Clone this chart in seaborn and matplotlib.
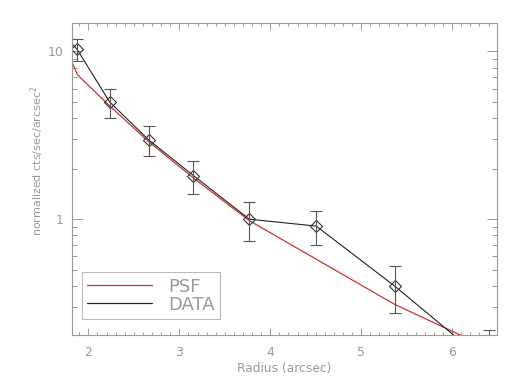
import matplotlib
matplotlib.use('Agg')
import matplotlib.pyplot as plt
from matplotlib.ticker import MultipleLocator, LogLocator, NullFormatter, FixedLocator, FixedFormatter
import seaborn as sns
import pandas as pd

# radial profile data
data_radius = [1.70, 1.876, 2.234, 2.663, 3.155, 3.77, 4.505, 5.366, 6.40]
data_value = [13.0, 10.3, 5.0, 2.97, 1.82, 1.0, 0.91, 0.40, 0.137]
data_err_hi = [15.0, 11.9, 5.97, 3.6, 2.21, 1.26, 1.12, 0.525, 0.218]
data_err_lo = [11.0, 8.8, 4.04, 2.38, 1.42, 0.74, 0.70, 0.276, 0.08]

psf_radius = [1.82, 1.88, 2.234, 2.663, 3.155, 3.77, 5.366, 6.40]
psf_value = [8.65, 7.26, 4.74, 2.90, 1.76, 0.98, 0.311, 0.17]

xticks = [2, 3, 4, 5, 6]
yticks = [1, 10]

grey = '#9a9a9a'
sns.set_style('ticks')
plt.rcParams['font.family'] = ['DejaVu Sans']

fig = plt.figure(figsize=(5.18, 3.82), dpi=100)
ax = fig.add_axes([0.139, 0.123, 0.820, 0.817])

psf = pd.DataFrame({'r': psf_radius, 'v': psf_value})
dat = pd.DataFrame({'r': data_radius, 'v': data_value})

sns.lineplot(data=psf, x='r', y='v', ax=ax, color='#cc3333', lw=0.9,
             label='PSF', sort=False)
sns.lineplot(data=dat, x='r', y='v', ax=ax, color='#222222', lw=0.8,
             label='DATA', sort=False, marker='D', markersize=6.5,
             markerfacecolor='none', markeredgecolor='#333333',
             markeredgewidth=0.8)

yerr = [[v - lo for v, lo in zip(data_value, data_err_lo)],
        [hi - v for v, hi in zip(data_value, data_err_hi)]]
ax.errorbar(data_radius, data_value, yerr=yerr, fmt='none', ecolor='#555555',
            elinewidth=0.8, capsize=4, capthick=0.8)

ax.set_yscale('log')
ax.set_xlim(1.82, 6.49)
ax.set_ylim(0.204, 14.8)

ax.xaxis.set_major_locator(FixedLocator(xticks))
ax.xaxis.set_minor_locator(MultipleLocator(0.1))
ax.yaxis.set_major_locator(FixedLocator(yticks))
ax.yaxis.set_major_formatter(FixedFormatter([str(t) for t in yticks]))
ax.yaxis.set_minor_locator(LogLocator(base=10, subs=range(2, 10)))
ax.yaxis.set_minor_formatter(NullFormatter())

ax.tick_params(which='both', direction='in', top=True, right=True,
               colors=grey, labelcolor=grey, labelsize=9, width=0.7)
ax.tick_params(axis='x', which='major', length=5, pad=8)
ax.tick_params(axis='x', which='minor', length=2.5)
ax.tick_params(axis='y', which='major', length=7, pad=6)
ax.tick_params(axis='y', which='minor', length=3.5)

for s in ax.spines.values():
    s.set_color(grey)
    s.set_linewidth(0.8)

ax.set_xlabel('Radius (arcsec)', color=grey, fontsize=8.8, labelpad=2)
ax.set_ylabel('normalized cts/sec/arcsec$^2$', color=grey, fontsize=8,
              labelpad=10)
ax.yaxis.set_label_coords(-0.062, 0.56)

leg = ax.legend(loc='lower left', bbox_to_anchor=(0.023, 0.051), fontsize=13,
                handlelength=3.6, handletextpad=0.9, labelspacing=0.0,
                borderpad=0.3, fancybox=False, framealpha=1,
                edgecolor='#bbbbbb', borderaxespad=0)
for t in leg.get_texts():
    t.set_color(grey)
leg.get_frame().set_linewidth(0.8)
for h in leg.get_lines():
    h.set_marker('')
    h.set_linewidth(0.9)

fig.savefig('out.png', dpi=100)
